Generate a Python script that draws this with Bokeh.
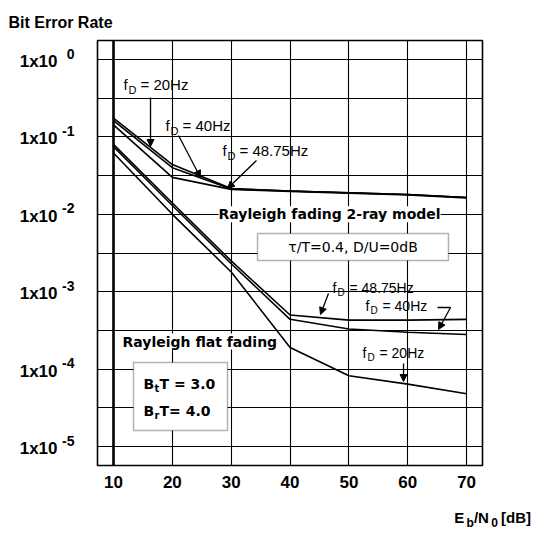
from bokeh.plotting import figure
from bokeh.models import (Range1d, FixedTicker, Label, Arrow, NormalHead, BoxAnnotation, Span,
                          LogAxis, LogScale, Div)
from bokeh.layouts import column
from bokeh.embed import file_html
from bokeh.resources import INLINE

# ---------------- data ----------------
ebn0 = [10, 20, 30, 40, 50, 60, 70]

# Rayleigh fading 2-ray model (tau/T = 0.4, D/U = 0 dB)
two_ray_fd20 = [0.175, 0.044, 0.0215, 0.0200, 0.0190, 0.0180, 0.0165]
two_ray_fd40 = [0.162, 0.040, 0.0212, 0.0200, 0.0190, 0.0180, 0.0165]
two_ray_fd4875 = [0.143, 0.030, 0.0210, 0.0198, 0.0188, 0.0178, 0.0163]

# Rayleigh flat fading
flat_fd4875 = [0.080, 0.0140, 0.0025, 5.0e-4, 4.3e-4, 4.3e-4, 4.4e-4]
flat_fd40 = [0.075, 0.0130, 0.0023, 4.4e-4, 3.3e-4, 3.0e-4, 2.8e-4]
flat_fd20 = [0.062, 0.0100, 0.0018, 1.9e-4, 8.2e-5, 6.4e-5, 4.8e-5]

x_ticks = [10, 20, 30, 40, 50, 60, 70]
y_ticks = [1e0, 1e-1, 1e-2, 1e-3, 1e-4, 1e-5]
y_minor = [10 ** -0.5, 10 ** -1.5, 10 ** -2.5, 10 ** -3.5, 10 ** -4.5]
y_tick_base = ["1x10", "1x10", "1x10", "1x10", "1x10", "1x10"]
y_tick_exp = ["0", "-1", "-2", "-3", "-4", "-5"]

fd_two_ray_texts = ["20Hz", "40Hz", "48.75Hz"]
fd_flat_texts = ["48.75Hz", "40Hz", "20Hz"]

# ---------------- figure ----------------
Y0, Y1 = 5.69e-6, 1.76
p = figure(width=534, height=500,
           x_range=Range1d(7.28, 72.7), y_range=Range1d(Y0, Y1),
           y_axis_type="log", y_axis_location=None,
           output_backend="svg", toolbar_location=None,
           min_border_left=97, min_border_right=52, min_border_top=40,
           min_border_bottom=35)
p.background_fill_color = "white"
p.border_fill_color = "white"
p.outline_line_color = "black"
p.outline_line_width = 1.6

p.title.text = "Bit Error Rate"
p.title.align = "left"
p.title.offset = -89
p.title.standoff = 19
p.title.text_font = "Liberation Sans"
p.title.text_font_style = "bold"
p.title.text_font_size = "16px"
p.title.text_color = "black"

xa = p.xaxis[0]
xa.ticker = FixedTicker(ticks=x_ticks)
xa.axis_line_color = None
xa.major_tick_line_color = None
xa.minor_tick_line_color = None
xa.major_tick_out = 0
xa.major_label_text_font = "Liberation Sans"
xa.major_label_text_font_style = "bold"
xa.major_label_text_font_size = "17px"
xa.major_label_text_color = "black"
xa.major_label_standoff = 10

# y tick labels: "1x10" and raised exponent on two left axes
k_sup = 10 ** (-6 / 77.4)
k_base = 10 ** (2 / 77.4)
p.extra_y_ranges = {"sup": Range1d(Y0 * k_sup, Y1 * k_sup), "base": Range1d(Y0 * k_base, Y1 * k_base)}
p.extra_y_scales = {"sup": LogScale(), "base": LogScale()}


def label_axis(rng, labels, size, standoff):
    ax = LogAxis(y_range_name=rng, ticker=FixedTicker(ticks=y_ticks),
                 major_label_overrides={v: t for v, t in zip(y_ticks, labels)})
    ax.axis_line_color = None
    ax.major_tick_line_color = None
    ax.minor_tick_line_color = None
    ax.major_tick_out = 0
    ax.major_tick_in = 0
    ax.minor_tick_out = 0
    ax.major_label_standoff = standoff
    ax.major_label_text_font = "Liberation Sans"
    ax.major_label_text_font_style = "bold"
    ax.major_label_text_font_size = size
    ax.major_label_text_color = "black"
    return ax


p.add_layout(label_axis("sup", y_tick_exp, "14px", 23), "left")
p.add_layout(label_axis("base", y_tick_base, "17px", 2), "left")

p.xgrid.ticker = FixedTicker(ticks=x_ticks)
p.xgrid.grid_line_color = "black"
p.xgrid.grid_line_width = 1.1
p.ygrid.ticker = FixedTicker(ticks=y_ticks, minor_ticks=y_minor)
p.ygrid.grid_line_color = "black"
p.ygrid.grid_line_width = 1.1
p.ygrid.minor_grid_line_color = "black"
p.ygrid.minor_grid_line_width = 1.1

p.add_layout(Span(location=10, dimension="height", line_color="black", line_width=2.6))

# ---------------- curves ----------------
for ys in [two_ray_fd20, two_ray_fd40, two_ray_fd4875, flat_fd4875, flat_fd40, flat_fd20]:
    p.line(ebn0, ys, line_color="black", line_width=1.6)


def fd_label(x, y, hz, size=15):
    common = dict(x=x, y=y, text_baseline="middle", text_align="left",
                  text_font="Liberation Sans", text_color="black")
    p.add_layout(Label(text="f", text_font_size=f"{size}px", **common))
    p.add_layout(Label(text="D", text_font_size=f"{size - 4}px", x_offset=5, y_offset=-5, **common))
    p.add_layout(Label(text="= " + hz, text_font_size=f"{size}px", x_offset=17, **common))


def arrow(x0, y0, x1, y1, head=True):
    end = NormalHead(size=7, fill_color="black", line_color="black") if head else None
    p.add_layout(Arrow(end=end, x_start=x0, y_start=y0, x_end=x1, y_end=y1,
                       line_color="black", line_width=1.3))


# 2-ray model annotations
fd_label(11.7, 10 ** -0.323, fd_two_ray_texts[0])
fd_label(18.84, 10 ** -0.853, fd_two_ray_texts[1])
fd_label(28.52, 10 ** -1.176, fd_two_ray_texts[2])
arrow(16.29, 10 ** -0.491, 16.29, 10 ** -1.124)
arrow(21.05, 10 ** -0.982, 24.78, 10 ** -1.525)
arrow(34.30, 10 ** -1.305, 29.37, 10 ** -1.667)

# flat fading annotations
fd_label(47.21, 10 ** -2.946, fd_flat_texts[0], 14)
fd_label(52.82, 10 ** -3.178, fd_flat_texts[1], 14)
fd_label(52.31, 10 ** -3.786, fd_flat_texts[2], 14)
arrow(46.53, 10 ** -3.023, 45.17, 10 ** -3.295)
arrow(65.06, 10 ** -3.204, 67.27, 10 ** -3.204, head=False)
arrow(67.27, 10 ** -3.204, 65.23, 10 ** -3.488)
arrow(59.28, 10 ** -3.928, 59.28, 10 ** -4.160)

p.add_layout(Label(x=27.84, y=1e-2, text="Rayleigh fading 2-ray model",
                   text_align="left", text_baseline="middle", text_color="black",
                   text_font="DejaVu Sans", text_font_style="bold", text_font_size="14px",
                   background_fill_color="white", background_fill_alpha=1.0))
p.add_layout(Label(x=11.53, y=10 ** -3.643, text="Rayleigh flat fading",
                   text_align="left", text_baseline="middle", text_color="black",
                   text_font="DejaVu Sans", text_font_style="bold", text_font_size="14px",
                   background_fill_color="white", background_fill_alpha=1.0))

p.add_layout(BoxAnnotation(left=34.47, right=66.92, bottom=10 ** -2.597, top=10 ** -2.248,
                           fill_color="white", fill_alpha=1.0, line_color="black", line_width=1.5))
p.add_layout(Label(x=50.7, y=10 ** -2.42, text="τ/T=0.4, D/U=0dB",
                   text_align="center", text_baseline="middle",
                   text_font="DejaVu Sans", text_font_size="14px", text_color="black"))

p.add_layout(BoxAnnotation(left=13.40, right=29.37, bottom=10 ** -4.793, top=10 ** -3.915,
                           fill_color="white", fill_alpha=1.0, line_color="black", line_width=1.5))
for (main, sub, rest, ly) in [("B", "t", "T = 3.0", -4.186), ("B", "r", "T= 4.0", -4.535)]:
    common = dict(x=15.1, y=10 ** ly, text_baseline="middle", text_align="left",
                  text_font="DejaVu Sans", text_font_style="bold", text_color="black")
    p.add_layout(Label(text=main, text_font_size="14px", **common))
    p.add_layout(Label(text=sub, text_font_size="10px", x_offset=11, y_offset=-5, **common))
    p.add_layout(Label(text=rest, text_font_size="14px", x_offset=16, **common))

# x-axis title with subscripts
xlabel = Div(
    text=('<div style="width:531px; text-align:right; font-family:\'Liberation Sans\'; font-weight:bold; '
          'font-size:15px; line-height:15px; padding-top:10px; color:black;">'
          'E<sub style="font-size:12px;">&thinsp;b</sub>/N<sub style="font-size:12px;">&thinsp;0</sub>'
          '&thinsp;[dB]</div>'),
    width=534, height=41, margin=0)

layout = column(p, xlabel, spacing=0)
open("out.html", "w").write(file_html(layout, INLINE))
